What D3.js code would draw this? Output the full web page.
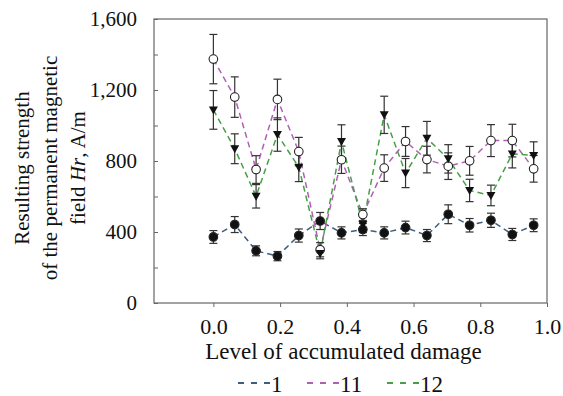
<!DOCTYPE html>
<html>
<head>
<meta charset="utf-8">
<script src="https://cdn.jsdelivr.net/npm/d3@7"></script>
<style>
  body { margin: 0; background: #fff; }
  text { font-family: "Liberation Serif", "Times New Roman", serif; fill: #111; }
</style>
</head>
<body>
<script>
// damage levels
const damage = [0, 0.064, 0.128, 0.192, 0.256, 0.32, 0.384, 0.448, 0.512, 0.576, 0.64, 0.704, 0.768, 0.832, 0.896, 0.96]

// series values + error half-widths, A/m
const s1 = [372, 442, 294, 264, 380, 462, 395, 414, 395, 425, 380, 500, 438, 466, 386, 438]
const s1err = [36, 45, 28, 26, 37, 48, 34, 34, 34, 36, 34, 53, 38, 40, 34, 36]
const s11 = [1374, 1160, 752, 1147, 853, 300, 807, 498, 760, 910, 808, 771, 801, 915, 915, 756]
const s11err = [139, 114, 78, 114, 80, 40, 77, 33, 75, 84, 75, 75, 81, 90, 92, 75]
const s12 = [1088, 869, 601, 949, 765, 279, 910, 442, 1060, 732, 928, 812, 634, 606, 840, 831]
const s12err = [109, 84, 66, 94, 81, 30, 94, 45, 105, 82, 95, 80, 63, 58, 79, 77]

const seriesNames = ["1", "11", "12"]
const seriesColors = ["#3f5d7d", "#b060b4", "#47a047"]

const xTicks = [0, 0.2, 0.4, 0.6, 0.8, 1.0]
const yTicks = [0, 200, 400, 600, 800, 1000, 1200, 1400, 1600]
const yLabels = [0, 400, 800, 1200, 1600]

const width = 563, height = 396
const mLeft = 154, mRight = 547, mTop = 19, mBottom = 303

const svg = d3.select("body").append("svg")
    .attr("width", width)
    .attr("height", height)

const x = d3.scaleLinear().domain([-0.178, 1.0]).range([mLeft, mRight])
const y = d3.scaleLinear().domain([0, 1600]).range([mBottom, mTop])

// frame
svg.append("rect")
    .attr("x", mLeft).attr("y", mTop)
    .attr("width", mRight - mLeft).attr("height", mBottom - mTop)
    .attr("fill", "none").attr("stroke", "#666").attr("stroke-width", 1.2)

// x axis
let xAxis = svg.append("g")
    .attr("transform", `translate(0,${mBottom})`)
    .call(d3.axisBottom(x).tickValues(xTicks).tickSize(4).tickFormat(d3.format(".1f")))
xAxis.select(".domain").remove()
xAxis.selectAll("line").attr("stroke", "#666")
xAxis.selectAll("text")
    .attr("dy", null).attr("y", 31)
    .style("font-size", "22px")
    .style("font-family", "Liberation Serif")

// y axis, inward ticks
let yAxis = svg.append("g")
    .attr("transform", `translate(${mLeft},0)`)
    .call(d3.axisLeft(y).tickValues(yTicks).tickSize(-4).tickPadding(17)
        .tickFormat(d => yLabels.includes(d) ? d3.format(",")(d) : ""))
yAxis.select(".domain").remove()
yAxis.selectAll("line").attr("stroke", "#666")
yAxis.selectAll("text")
    .style("font-size", "21px")
    .style("font-family", "Liberation Serif")

// axis titles
svg.append("text")
    .attr("x", 343.5).attr("y", 359)
    .attr("text-anchor", "middle")
    .style("font-size", "23px")
    .text("Level of accumulated damage")

let yTitle = svg.append("text")
    .attr("transform", "translate(0,168) rotate(-90)")
    .attr("text-anchor", "middle")
    .style("font-size", "21px")
yTitle.append("tspan").attr("x", 0).attr("y", 29).text("Resulting strength")
yTitle.append("tspan").attr("x", 0).attr("y", 57).text("of the permanent magnetic")
let l3 = yTitle.append("tspan").attr("x", 0).attr("y", 85)
l3.append("tspan").text("field ")
l3.append("tspan").style("font-style", "italic").text("Hr")
l3.append("tspan").text(", A/m")

const series = [
    {vals: s1, err: s1err, marker: "dot"},
    {vals: s11, err: s11err, marker: "open"},
    {vals: s12, err: s12err, marker: "tri"}
]

const line = d3.line().x((d, i) => x(damage[i])).y(d => y(d))

// dashed lines
series.forEach((s, k) => {
    svg.append("path")
        .datum(s.vals)
        .attr("d", line)
        .attr("fill", "none")
        .attr("stroke", seriesColors[k])
        .attr("stroke-width", 1.5)
        .attr("stroke-dasharray", "6,4")
})

// error bars
series.forEach(s => {
    let g = svg.append("g").attr("stroke", "#333").attr("stroke-width", 1.2)
    s.vals.forEach((v, i) => {
        let cx = x(damage[i])
        g.append("line").attr("x1", cx).attr("x2", cx).attr("y1", y(v - s.err[i])).attr("y2", y(v + s.err[i]))
        g.append("line").attr("x1", cx - 4).attr("x2", cx + 4).attr("y1", y(v - s.err[i])).attr("y2", y(v - s.err[i]))
        g.append("line").attr("x1", cx - 4).attr("x2", cx + 4).attr("y1", y(v + s.err[i])).attr("y2", y(v + s.err[i]))
    })
})

// markers
series.forEach(s => {
    let g = svg.append("g")
    s.vals.forEach((v, i) => {
        let cx = x(damage[i]), cy = y(v)
        if (s.marker == "tri") {
            g.append("path")
                .attr("d", `M${cx - 4.5},${cy - 3.5}L${cx + 4.5},${cy - 3.5}L${cx},${cy + 4.5}Z`)
                .attr("fill", "#111")
        } else {
            g.append("circle")
                .attr("cx", cx).attr("cy", cy).attr("r", 4.3)
                .attr("fill", s.marker == "open" ? "#fff" : "#111")
                .attr("stroke", "#222").attr("stroke-width", 1.1)
        }
    })
})

// legend
const legendX = [238, 307, 387]
seriesNames.forEach((name, k) => {
    svg.append("line")
        .attr("x1", legendX[k]).attr("x2", legendX[k] + 33)
        .attr("y1", 383).attr("y2", 383)
        .attr("stroke", seriesColors[k])
        .attr("stroke-width", 2.2)
        .attr("stroke-dasharray", "6,7")
    svg.append("text")
        .attr("x", legendX[k] + 33).attr("y", 392)
        .style("font-size", "23px")
        .text(name)
})
</script>
</body>
</html>
